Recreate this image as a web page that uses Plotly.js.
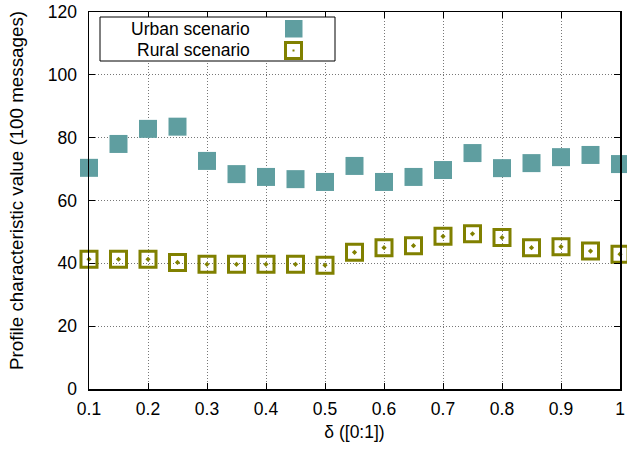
<!DOCTYPE html>
<html><head><meta charset="utf-8">
<script src="https://cdn.plot.ly/plotly-3.0.1.min.js"></script>
<style>html,body{margin:0;padding:0;background:#fff}</style>
</head><body>
<div id="chart" style="width:627px;height:451px"></div>
<script>
var delta = [0.1,0.15,0.2,0.25,0.3,0.35,0.4,0.45,0.5,0.55,0.6,0.65,0.7,0.75,0.8,0.85,0.9,0.95,1.0];
var urban = [70.4,78.0,82.8,83.5,72.6,68.4,67.5,66.8,65.9,71.0,65.9,67.5,69.7,75.1,70.3,71.9,73.8,74.5,71.6];
var rural = [41.3,41.3,41.3,40.3,39.7,39.7,39.7,39.7,39.4,43.5,45.0,45.6,48.6,49.4,48.2,45.0,45.3,43.9,42.9];
var seriesNames = ["Urban scenario","Rural scenario"];
var xTitle = "δ ([0:1])";
var yTitle = "Profile characteristic value (100 messages)";

var teal = "#5f9ea0", olive = "#808000";
var fam = "Liberation Sans, Arial, sans-serif";
var font = {family:fam, size:17.5, color:"#000"};

var traces = [
  {x:delta, y:urban, type:"scatter", mode:"markers", name:seriesNames[0], cliponaxis:false,
   marker:{symbol:"square", size:18, color:teal, line:{width:0}}},
  {x:delta, y:rural, type:"scatter", mode:"markers", name:seriesNames[1], cliponaxis:false,
   marker:{symbol:"square-open-dot", size:16, color:olive, line:{width:3, color:olive}}}
];

// legend box (gnuplot style: text right-aligned, symbol on right)
var L = 89, R = 620, T = 12, B = 389;
function px(x){return (x-L)/(R-L);}
function py(y){return (B-y)/(B-T);}
var shapes = [
  {type:"rect", xref:"paper", yref:"paper", x0:px(100), x1:px(335), y0:py(61), y1:py(17), line:{color:"#000", width:1}, fillcolor:"#fff", layer:"above"},
  {type:"rect", xref:"paper", yref:"paper", x0:px(285), x1:px(302.5), y0:py(37.5), y1:py(20), line:{width:0}, fillcolor:teal, layer:"above"},
  {type:"rect", xref:"paper", yref:"paper", x0:px(285.5), x1:px(301.5), y0:py(58.5), y1:py(42.5), line:{color:olive, width:3}, fillcolor:"rgba(0,0,0,0)", layer:"above"},
  {type:"rect", xref:"paper", yref:"paper", x0:px(292.5), x1:px(294.5), y0:py(51.5), y1:py(49.5), line:{width:0}, fillcolor:olive, layer:"above"}
];
var annotations = [
  {xref:"paper", yref:"paper", x:px(252), y:py(29), xanchor:"right", yanchor:"middle", text:seriesNames[0], showarrow:false, font:font},
  {xref:"paper", yref:"paper", x:px(252), y:py(50), xanchor:"right", yanchor:"middle", text:seriesNames[1], showarrow:false, font:font},
  {xref:"paper", yref:"paper", x:px(16), y:py(191), xanchor:"center", yanchor:"middle", textangle:-90, text:yTitle, showarrow:false,
   font:{family:fam, size:18.8, color:"#000"}}
];

var layout = {
  width:627, height:451,
  margin:{l:L, r:627-R, t:T, b:451-B},
  paper_bgcolor:"#fff", plot_bgcolor:"#fff",
  showlegend:false,
  font:font,
  xaxis:{range:[0.1,1.0], dtick:0.1, tick0:0.1, tickformat:".1~f",
    ticks:"inside", ticklen:6, tickcolor:"#000", mirror:"allticks", showline:true, linecolor:"#000", linewidth:1.5,
    showgrid:true, gridcolor:"#777", griddash:"1px,2px", gridwidth:1, zeroline:false, ticklabelstandoff:3,
    title:{text:xTitle, font:font, standoff:8}, tickfont:font, automargin:false},
  yaxis:{range:[0,120], dtick:20,
    ticks:"inside", ticklen:6, tickcolor:"#000", mirror:"allticks", showline:true, linecolor:"#000", linewidth:1.5,
    showgrid:true, gridcolor:"#777", griddash:"1px,2px", gridwidth:1, zeroline:false, ticklabelstandoff:7,
    tickfont:font, automargin:false},
  shapes:shapes, annotations:annotations
};
Plotly.newPlot("chart", traces, layout, {displayModeBar:false, staticPlot:true});
</script>
</body></html>
